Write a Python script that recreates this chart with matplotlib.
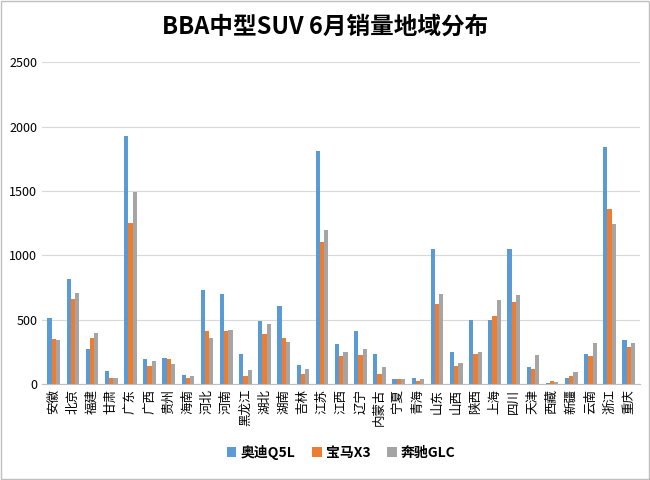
import numpy as np
import matplotlib.pyplot as plt

plt.rcParams['font.family'] = ['Noto Sans CJK SC']

provinces = ['安徽', '北京', '福建', '甘肃', '广东', '广西', '贵州', '海南', '河北', '河南',
             '黑龙江', '湖北', '湖南', '吉林', '江苏', '江西', '辽宁', '内蒙古', '宁夏', '青海',
             '山东', '山西', '陕西', '上海', '四川', '天津', '西藏', '新疆', '云南', '浙江', '重庆']
audi_q5l = [510, 820, 270, 100, 1930, 195, 205, 70, 730, 700,
            235, 490, 610, 150, 1810, 310, 415, 235, 40, 50,
            1050, 245, 495, 500, 1050, 135, 10, 45, 230, 1840, 340]
bmw_x3 = [350, 660, 360, 50, 1250, 140, 195, 45, 410, 410,
          60, 390, 360, 75, 1100, 215, 225, 80, 35, 20,
          620, 140, 235, 530, 640, 120, 25, 65, 215, 1360, 290]
benz_glc = [340, 710, 400, 50, 1490, 180, 155, 65, 360, 420,
            110, 470, 330, 120, 1200, 250, 270, 135, 35, 40,
            700, 165, 245, 650, 690, 225, 15, 90, 320, 1240, 320]

fig = plt.figure(figsize=(6.5, 4.8), dpi=100)
ax = fig.add_axes([0.065, 0.2, 0.92, 0.67])
x = np.arange(len(provinces))
w = 0.22
ax.bar(x - w, audi_q5l, w, color='#5B9BD5', label='奥迪Q5L')
ax.bar(x, bmw_x3, w, color='#ED7D31', label='宝马X3')
ax.bar(x + w, benz_glc, w, color='#A5A5A5', label='奔驰GLC')

ax.set_ylim(0, 2500)
ax.set_yticks(range(0, 2501, 500))
ax.set_xlim(-0.6, len(provinces) - 0.4)
ax.set_xticks(x)
ax.set_xticklabels(provinces, rotation=90, fontsize=9)
ax.tick_params(axis='y', labelsize=9, length=0)
ax.tick_params(axis='x', length=0)
ax.grid(axis='y', color='#D9D9D9', linewidth=0.8)
ax.set_axisbelow(True)
for s in ['top', 'right', 'left']:
    ax.spines[s].set_visible(False)
ax.spines['bottom'].set_color('#BFBFBF')

fig.suptitle('BBA中型SUV 6月销量地域分布', fontsize=17, fontweight='bold', y=0.97)
ax.legend(loc='upper center', bbox_to_anchor=(0.5, -0.15), ncol=3, frameon=False,
          fontsize=10, handlelength=0.7, handletextpad=0.3, columnspacing=1.2,
          prop={'weight': 'bold', 'size': 10})
fig.patches.append(plt.Rectangle((0.002, 0.002), 0.996, 0.996, transform=fig.transFigure,
                                 fill=False, edgecolor='#BFBFBF', linewidth=1))
fig.savefig('out.png')
